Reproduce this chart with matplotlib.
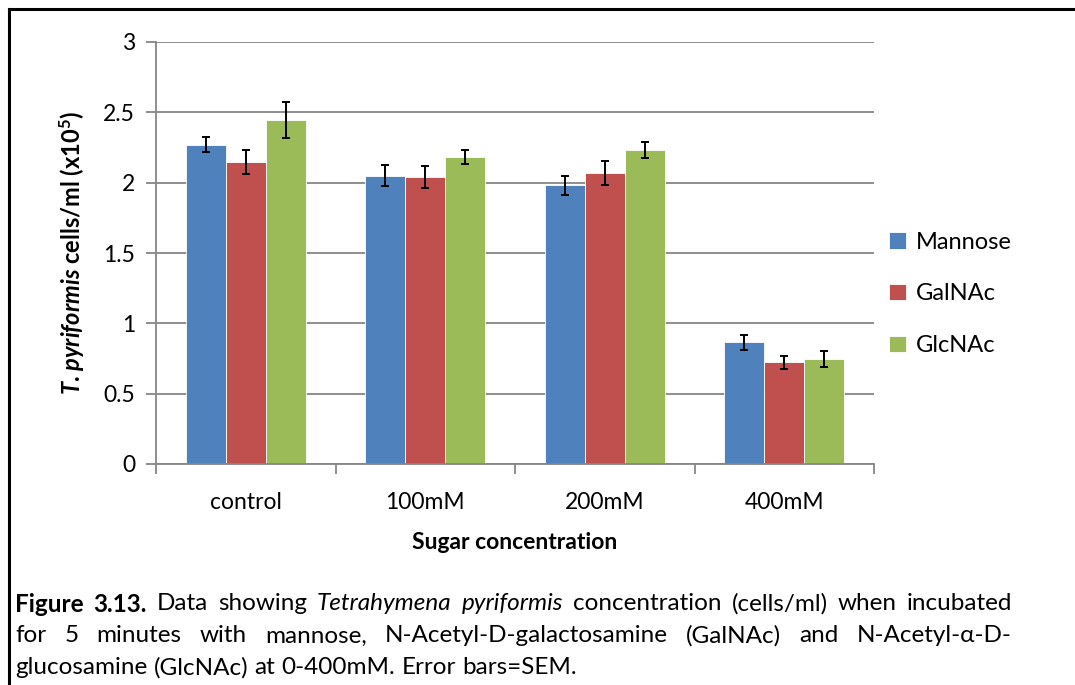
import matplotlib
matplotlib.use("Agg")
import matplotlib.pyplot as plt
import numpy as np
from matplotlib.lines import Line2D

categories = ["control", "100mM", "200mM", "400mM"]
series_names = ["Mannose", "GalNAc", "GlcNAc"]
mannose = [2.27, 2.05, 1.98, 0.865]
galnac = [2.15, 2.04, 2.07, 0.723]
glcnac = [2.445, 2.18, 2.23, 0.744]
mannose_err = [0.055, 0.074, 0.066, 0.052]
galnac_err = [0.085, 0.08, 0.084, 0.046]
glcnac_err = [0.125, 0.05, 0.057, 0.057]
yticks = [0, 0.5, 1, 1.5, 2, 2.5, 3]
ytick_labels = ["0", "0.5", "1", "1.5", "2", "2.5", "3"]

colors = ["#4F81BD", "#C0504D", "#9BBB59"]
FONT = ["Lato", "DejaVu Sans"]
plt.rcParams['font.family'] = FONT
plt.rcParams['mathtext.fontset'] = 'custom'
plt.rcParams['mathtext.rm'] = 'Lato:bold'
plt.rcParams['mathtext.it'] = 'Lato:italic:bold'
plt.rcParams['mathtext.bf'] = 'Lato:bold'

W, H = 1075, 685
fig = plt.figure(figsize=(W / 100, H / 100), dpi=100)
ax = fig.add_axes([156 / W, 1 - 464 / H, (874 - 156) / W, (464 - 42) / H])

values = [mannose, galnac, glcnac]
errs = [mannose_err, galnac_err, glcnac_err]
x = np.arange(len(categories))
w = 1 / 4.5
for i, (vals, err) in enumerate(zip(values, errs)):
    pos = x + (i - 1) * w
    ax.bar(pos, vals, width=w, color=colors[i], edgecolor="white", linewidth=0.6,
           label=series_names[i], zorder=2)
    ax.errorbar(pos, vals, yerr=err, fmt="none", ecolor="black", elinewidth=1.4,
                capsize=3.2, capthick=1.4, zorder=3)

ax.set_xlim(-0.5, len(categories) - 0.5)
ax.set_ylim(0, 3)
ax.set_yticks(yticks)
ax.set_yticklabels(ytick_labels)
ax.yaxis.grid(True, color="#868686", linewidth=1.3, zorder=0)
ax.set_axisbelow(True)
for s in ["top", "right"]:
    ax.spines[s].set_visible(False)
for s in ["left", "bottom"]:
    ax.spines[s].set_color("#868686")
    ax.spines[s].set_linewidth(1.3)
ax.tick_params(axis="y", length=7, width=1.3, color="#868686", labelsize=16.5, pad=8)
ax.set_xticks(np.arange(-0.5, len(categories), 1.0))
ax.set_xticklabels([])
ax.set_xticks(x, minor=True)
ax.set_xticklabels(categories, minor=True)
ax.tick_params(axis="x", which="major", length=7, width=1.3, color="#868686")
ax.tick_params(axis="x", which="minor", length=0, labelsize=16.5, pad=20)

ax.set_xlabel("Sugar concentration", fontsize=16.5, fontweight="bold", labelpad=14)
ax.set_ylabel(r"$\mathit{T}$. $\mathit{pyriformis}$ cells/ml (x10$\mathrm{^5}$)", fontsize=17,
              fontweight="bold", labelpad=12)

leg = ax.legend(loc="center left", bbox_to_anchor=(1.008, 0.403), frameon=False,
                fontsize=17, handlelength=0.7, handleheight=0.7,
                handletextpad=0.45, labelspacing=1.3, borderaxespad=0)

# figure border (top and left visible)
fig.add_artist(Line2D([9 / W, 9 / W], [0, 1 - 9 / H], color="black", linewidth=2.2,
                      transform=fig.transFigure))
fig.add_artist(Line2D([9 / W, 1], [1 - 9 / H, 1 - 9 / H], color="black", linewidth=2.2,
                      transform=fig.transFigure))

# caption with justification
renderer = fig.canvas.get_renderer()
x0, x1 = 15, 1012
reg = {}
bold = {"fontweight": "bold"}
ital = {"fontstyle": "italic"}

def measure(txt, style, size):
    t = fig.text(0, 0, txt, fontsize=size, **style)
    bb = t.get_window_extent(renderer=renderer)
    t.remove()
    return bb.width

lines = [
    ([("Figure 3.13.", bold), ("Data showing", reg), ("Tetrahymena pyriformis", ital),
      ("concentration (cells/ml) when incubated", reg)], 604, True),
    ([("for 5 minutes with mannose, N-Acetyl-D-galactosamine (GalNAc) and N-Acetyl-α-D-", reg)], 636, True),
    ([("glucosamine (GlcNAc) at 0-400mM. Error bars=SEM.", reg)], 668, False),
]

cap_size = 17.5
def natural_width(segs, size):
    sw = measure("a b", reg, size) - measure("ab", reg, size)
    ws = []
    for txt, st in segs:
        for wd in txt.split(" "):
            ws.append(measure(wd, st, size))
    return sum(ws) + sw * (len(ws) - 1)
nw = natural_width(lines[0][0], cap_size)
if nw > (x1 - x0):
    cap_size = cap_size * (x1 - x0) / nw * 0.995

space_w = measure("a b", reg, cap_size) - measure("ab", reg, cap_size)
for segs, yy, justify in lines:
    words = []
    for txt, st in segs:
        for wd in txt.split(" "):
            words.append((wd, st))
    widths = [measure(wd, st, cap_size) for wd, st in words]
    total = sum(widths)
    if justify and len(words) > 1:
        gap = ((x1 - x0) - total) / (len(words) - 1)
    else:
        gap = space_w
    cx = x0
    for (wd, st), wd_w in zip(words, widths):
        fig.text(cx / W, 1 - yy / H, wd, fontsize=cap_size, va="center", ha="left", **st)
        cx += wd_w + gap

fig.savefig("out.png", dpi=100)
